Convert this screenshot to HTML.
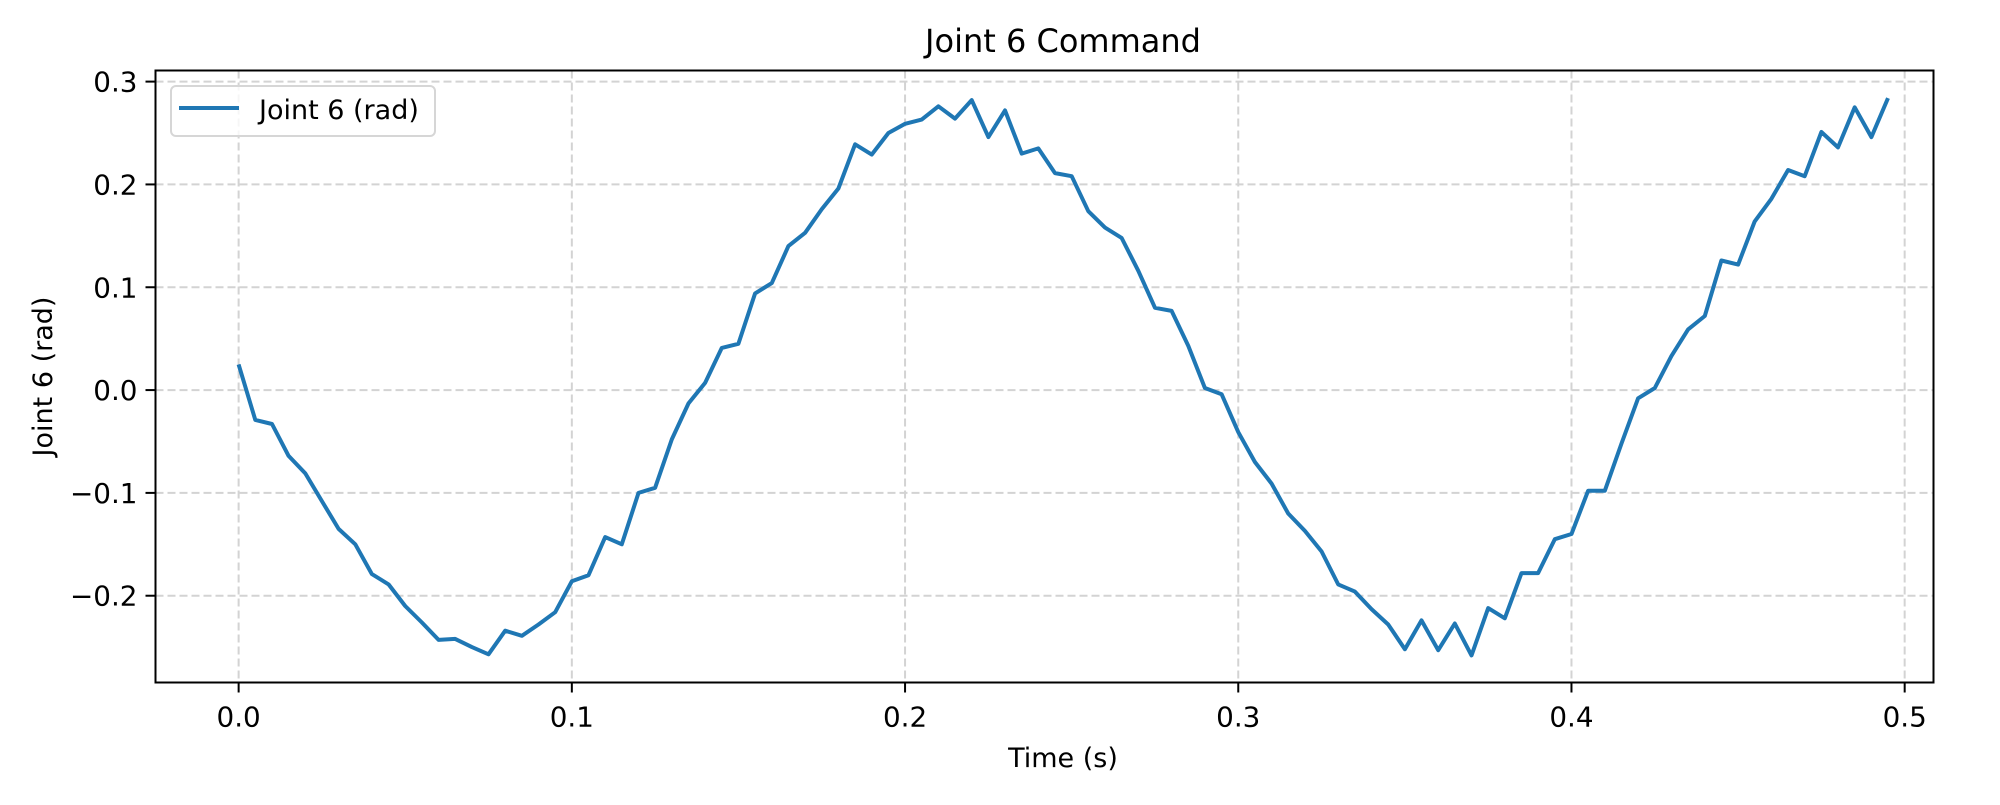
<!DOCTYPE html>
<html><head><meta charset="utf-8"><style>
body{margin:0;background:#fff}
svg text{font-family:"DejaVu Sans","Liberation Sans",sans-serif;fill:#000}
</style></head><body>
<svg id="chart" width="2000" height="800" xmlns="http://www.w3.org/2000/svg">
<rect width="2000" height="800" fill="#fff"/>
<g id="grid"></g><g id="series"></g><g id="axes"></g>
</svg>
<script>
const times = [];
for (let i = 0; i < 100; i++) times.push(+(i * 0.005).toFixed(3));
const jointValues = [0.025,-0.029,-0.033,-0.064,-0.081,-0.108,-0.135,-0.150,-0.179,-0.189,
-0.210,-0.226,-0.243,-0.242,-0.250,-0.257,-0.234,-0.239,-0.228,-0.216,
-0.186,-0.180,-0.143,-0.150,-0.100,-0.095,-0.048,-0.013,0.007,0.041,
0.045,0.094,0.104,0.140,0.153,0.176,0.196,0.239,0.229,0.250,
0.259,0.263,0.276,0.264,0.282,0.246,0.272,0.230,0.235,0.211,
0.208,0.174,0.158,0.148,0.116,0.080,0.077,0.043,0.002,-0.004,
-0.041,-0.070,-0.091,-0.120,-0.137,-0.157,-0.189,-0.196,-0.213,-0.228,
-0.252,-0.224,-0.253,-0.227,-0.258,-0.212,-0.222,-0.178,-0.178,-0.145,
-0.140,-0.098,-0.098,-0.052,-0.008,0.002,0.033,0.059,0.072,0.126,
0.122,0.164,0.186,0.214,0.208,0.251,0.236,0.275,0.246,0.284];
const xTicks = [0.0,0.1,0.2,0.3,0.4,0.5];
const xTickLabels = ["0.0","0.1","0.2","0.3","0.4","0.5"];
const yTicks = [-0.2,-0.1,0.0,0.1,0.2,0.3];
const yTickLabels = ["\u22120.2","\u22120.1","0.0","0.1","0.2","0.3"];

const L=155.5,R=1933.5,T=70.5,B=682.5;
const xMin=-0.02495,xMax=0.50865,yMin=-0.2844,yMax=0.3108;
const sx=v=>L+(v-xMin)/(xMax-xMin)*(R-L);
const sy=v=>B-(v-yMin)/(yMax-yMin)*(B-T);
const NS="http://www.w3.org/2000/svg";
function mk(tag,attrs,parent){const e=document.createElementNS(NS,tag);for(const k in attrs)e.setAttribute(k,attrs[k]);parent.appendChild(e);return e;}
const grid=document.getElementById('grid'),series=document.getElementById('series'),axes=document.getElementById('axes');

xTicks.forEach((t,i)=>{
  const x=sx(t);
  const g=mk('line',{x1:x,x2:x,y1:T,y2:B,stroke:'#d3d3d3','stroke-width':2,'stroke-dasharray':'8,4'},grid);
  
  
  const tk=mk('line',{x1:x,x2:x,y1:B,y2:B+10,stroke:'#000','stroke-width':2},axes);
  
  
  const lb=mk('text',{x:x,y:B+44,'text-anchor':'middle','font-size':27.8},axes);
  lb.textContent=xTickLabels[i];
  
  
});
yTicks.forEach((t,i)=>{
  const y=sy(t);
  const g=mk('line',{x1:L,x2:R,y1:y,y2:y,stroke:'#d3d3d3','stroke-width':2,'stroke-dasharray':'8,4'},grid);
  
  
  const tk=mk('line',{x1:L-10,x2:L,y1:y,y2:y,stroke:'#000','stroke-width':2},axes);
  
  
  const lb=mk('text',{x:L-18,y:y+10,'text-anchor':'end','font-size':27.8},axes);
  lb.textContent=yTickLabels[i];
  
  
});
const pts=times.map((t,i)=>sx(t).toFixed(1)+','+sy(jointValues[i]).toFixed(1)).join(' ');
const line=mk('polyline',{points:pts,fill:'none',stroke:'#1f77b4','stroke-width':4,'stroke-linejoin':'round'},series);



const frame=mk('rect',{x:L,y:T,width:R-L,height:B-T,fill:'none',stroke:'#000','stroke-width':2},axes);


const title=mk('text',{x:1063,y:52,'text-anchor':'middle','font-size':32},axes);
title.textContent='Joint 6 Command';


const xl=mk('text',{x:1063,y:767,'text-anchor':'middle','font-size':27},axes);
xl.textContent='Time (s)';


const yl=mk('text',{x:0,y:0,'text-anchor':'middle','font-size':27,transform:'translate(52,'+((T+B)/2)+') rotate(-90)'},axes);
yl.textContent='Joint 6 (rad)';



const lg=mk('g',{},axes);


mk('rect',{x:171,y:86,width:264,height:50,rx:5,fill:'#fff','fill-opacity':0.8,stroke:'#d6d6d6','stroke-width':2},lg);
const ll=mk('line',{x1:179,x2:239,y1:108,y2:108,stroke:'#1f77b4','stroke-width':4},lg);


const lt=mk('text',{x:259,y:119,'font-size':27},lg);
lt.textContent='Joint 6 (rad)';


</script>
</body></html>
